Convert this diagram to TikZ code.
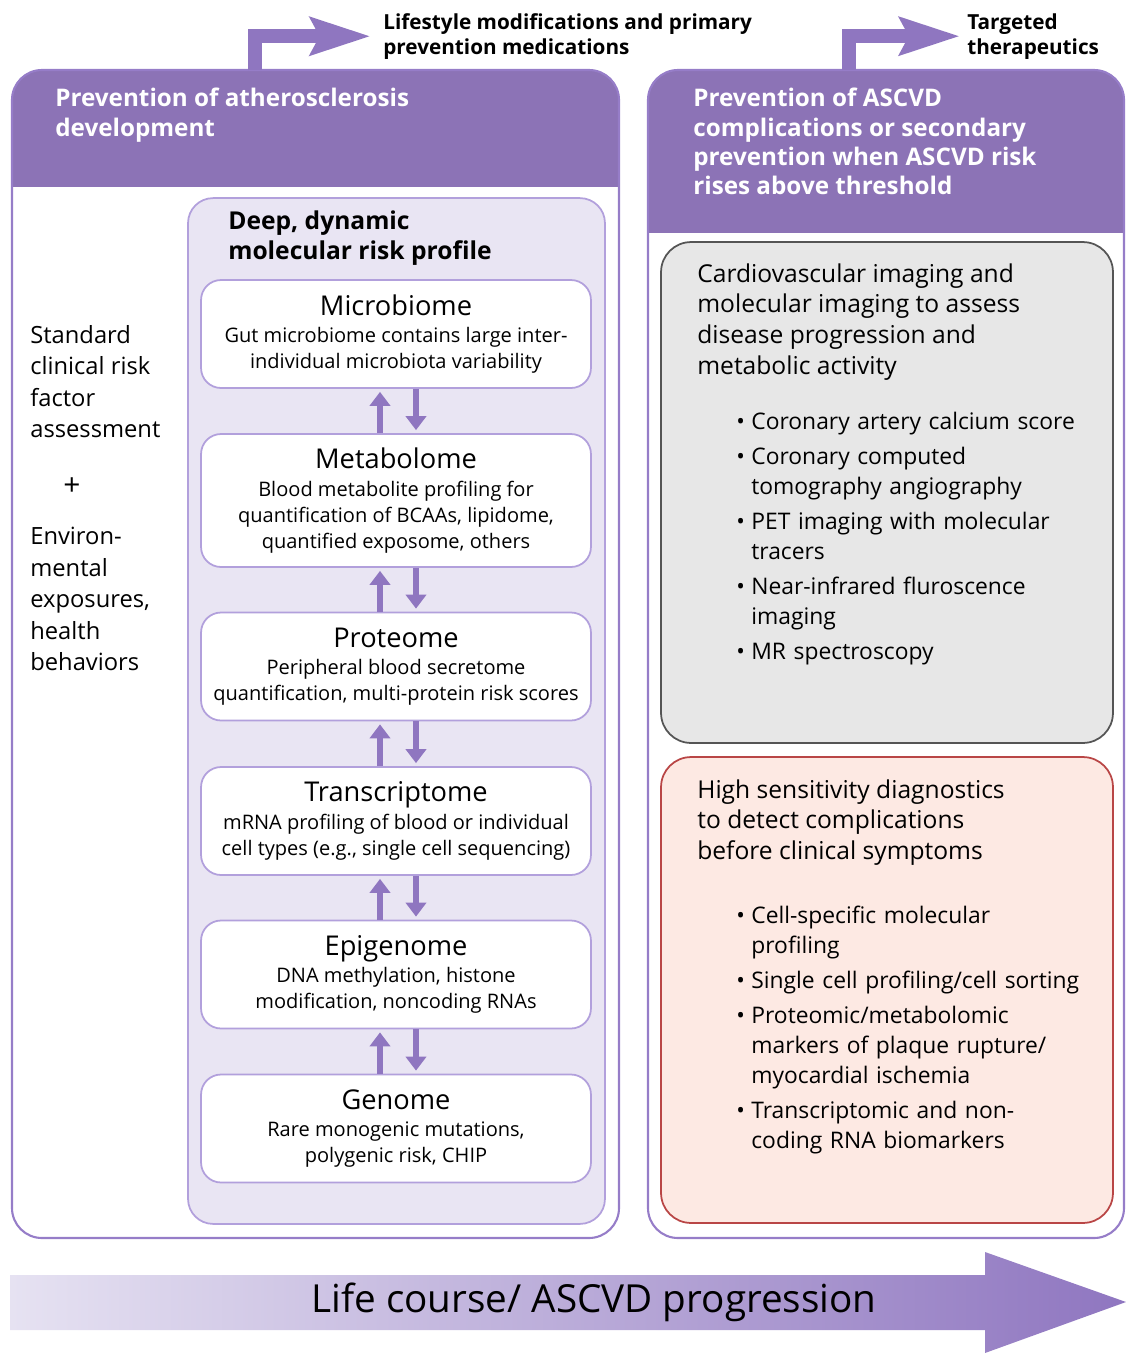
\documentclass[tikz,border=0pt]{standalone}
\usepackage{fontspec}
\setmainfont{Open Sans}
\usetikzlibrary{arrows.meta,calc,positioning}

\definecolor{hdrpurple}{RGB}{140,115,182}
\definecolor{arrpurple}{RGB}{143,118,192}
\definecolor{panelline}{RGB}{150,125,200}
\definecolor{lavfill}{RGB}{233,229,243}
\definecolor{lavline}{RGB}{178,160,220}
\definecolor{greyfill}{RGB}{231,231,231}
\definecolor{greyline}{RGB}{85,85,85}
\definecolor{pinkfill}{RGB}{253,233,227}
\definecolor{pinkline}{RGB}{185,70,70}
\definecolor{courselight}{RGB}{230,226,242}

\newcommand{\omtitle}{\fontsize{15.5}{19}\selectfont}
\newcommand{\omdesc}{\fontsize{11.4}{14.7}\selectfont}
\newcommand{\bul}[1]{\par\hangindent=0.3cm\hangafter=1\noindent\makebox[0.3cm][l]{\textbullet}#1\par\vspace{3pt}}

\tikzset{
  omics/.style={draw=lavline, line width=1pt, fill=white, rounded corners=0.4cm,
    minimum width=7.8cm, minimum height=2.16cm, align=center, inner sep=2pt,
    font=\omdesc},
  omarrow/.style={arrpurple, line width=3.4pt, -{Triangle[length=8pt,width=11.5pt]}},
  elbow/.style={arrpurple, line width=7.9pt, -{Stealth[length=34pt,width=21pt,inset=5pt]}},
  hdrtext/.style={anchor=north west, inner sep=0, text=white, align=left,
    font={\bfseries\fontsize{13.8}{16.6}\selectfont}},
  toplabel/.style={anchor=north west, inner sep=0, align=left,
    font={\bfseries\fontsize{11.8}{14.2}\selectfont}},
  bodytext/.style={anchor=north west, inner sep=0, align=left,
    font={\fontsize{14}{17.6}\selectfont}},
  bullets/.style={anchor=north west, inner sep=0, text width=7.3cm, align=left,
    font={\fontsize{13}{17}\selectfont}},
}

\begin{document}
\begin{tikzpicture}[x=0.02cm,y=-0.02cm]
\useasboundingbox (0,0) rectangle (1126,1353);

% left panel: primary prevention
\begin{scope}
  \clip (0,0) rectangle (1126,186);
  \fill[hdrpurple,rounded corners=0.6cm] (12,70) rectangle (619,1238);
\end{scope}
\draw[panelline,line width=1.2pt,rounded corners=0.6cm] (12,70) rectangle (619,1238);
\node[hdrtext] (hdrL) at (55,88) {Prevention of atherosclerosis\\development};

% right panel: secondary prevention
\begin{scope}
  \clip (0,0) rectangle (1126,232);
  \fill[hdrpurple,rounded corners=0.6cm] (648,70) rectangle (1124,1238);
\end{scope}
\draw[panelline,line width=1.2pt,rounded corners=0.6cm] (648,70) rectangle (1124,1238);
\node[hdrtext] (hdrR) at (693,88) {Prevention of ASCVD\\complications or secondary\\prevention when ASCVD risk\\rises above threshold};

% elbow arrows on top
\node[toplabel] (lifestyle) at (383,13) {Lifestyle modifications and primary\\prevention medications};
\node[toplabel] (targeted) at (967,13) {Targeted\\therapeutics};
\coordinate (stemL) at (255,70);
\coordinate (stemR) at (849,70);
\draw[elbow,shorten >=7pt] (stemL) |- (lifestyle.west);
\draw[elbow,shorten >=4pt] (stemR) |- (targeted.west);

% clinical risk factors
\node[bodytext,font={\fontsize{13.5}{17.9}\selectfont}] (clinical) at (30,325)
  {Standard\\clinical risk\\factor\\assessment};
\node[font={\fontsize{17}{20}\selectfont}] (plus) at (72,487) {+};
\node[bodytext,font={\fontsize{13.5}{17.9}\selectfont}] (environ) at (30,527)
  {Environ-\\mental\\exposures,\\health\\behaviors};

% molecular risk profile
\node[draw=lavline, line width=1pt, fill=lavfill, rounded corners=0.5cm,
  minimum width=8.34cm, minimum height=20.52cm] (profile) at (396.5,711) {};
\node[anchor=north west, inner sep=0, align=left,
  font={\bfseries\fontsize{14}{17.6}\selectfont}] (deep) at (228,210)
  {Deep, dynamic\\molecular risk profile};

\node[omics] (micro) at (396,334) {{\omtitle Microbiome}\\[1pt]
  Gut microbiome contains large inter-\\ individual microbiota variability};
\node[omics,minimum height=2.66cm] (meta) at (396,500.5) {{\omtitle Metabolome}\\[1pt]
  Blood metabolite profiling for\\ quantification of BCAAs, lipidome,\\ quantified exposome, others};
\node[omics] (prot) at (396,666.5) {{\omtitle Proteome}\\[1pt]
  Peripheral blood secretome\\ quantification, multi-protein risk scores};
\node[omics] (trans) at (396,821) {{\omtitle Transcriptome}\\[1pt]
  mRNA profiling of blood or individual\\ cell types (e.g., single cell sequencing)};
\node[omics] (epi) at (396,974.5) {{\omtitle Epigenome}\\[1pt]
  DNA methylation, histone\\ modification, noncoding RNAs};
\node[omics] (gen) at (396,1128.5) {{\omtitle Genome}\\[1pt]
  Rare monogenic mutations,\\ polygenic risk, CHIP};

\foreach \a/\b in {micro/meta,meta/prot,prot/trans,trans/epi,epi/gen}{
  \draw[omarrow] ($(\b.north)+(-16,0)$) -- ($(\a.south)+(-16,3)$);
  \draw[omarrow] ($(\a.south)+(20,0)$) -- ($(\b.north)+(20,-3)$);
}

% imaging box
\node[draw=greyline, line width=1pt, fill=greyfill, rounded corners=0.6cm,
  minimum width=9.04cm, minimum height=10.02cm] (imaging) at (887,492.5) {};
\node[bodytext] (imgtext) at (697,263)
  {Cardiovascular imaging and\\molecular imaging to assess\\disease progression and\\metabolic activity};
\node[bullets] (imglist) at (736,399) {%
  \bul{Coronary artery calcium score}
  \bul{Coronary computed\newline tomography angiography}
  \bul{PET imaging with molecular\newline tracers}
  \bul{Near-infrared fluroscence\newline imaging}
  \bul{MR spectroscopy}};

% diagnostics box
\node[draw=pinkline, line width=1pt, fill=pinkfill, rounded corners=0.6cm,
  minimum width=9.04cm, minimum height=9.32cm] (diagnostics) at (887,990) {};
\node[bodytext] (diagtext) at (697,779)
  {High sensitivity diagnostics\\to detect complications\\before clinical symptoms};
\node[bullets] (diaglist) at (736,893) {%
  \bul{Cell-specific molecular\newline profiling}
  \bul{Single cell profiling/cell sorting}
  \bul{Proteomic/metabolomic\newline markers of plaque rupture/\newline myocardial ischemia}
  \bul{Transcriptomic and non-\newline coding RNA biomarkers}};

% life course arrow
\shade[left color=courselight, right color=arrpurple]
  (10,1275) -- (985,1275) -- (985,1252) -- (1126,1302) -- (985,1353)
  -- (985,1330) -- (10,1330) -- cycle;
\node[font={\fontsize{22}{26}\selectfont}] (course) at (594,1302) {Life course/ ASCVD progression};
\end{tikzpicture}
\end{document}
